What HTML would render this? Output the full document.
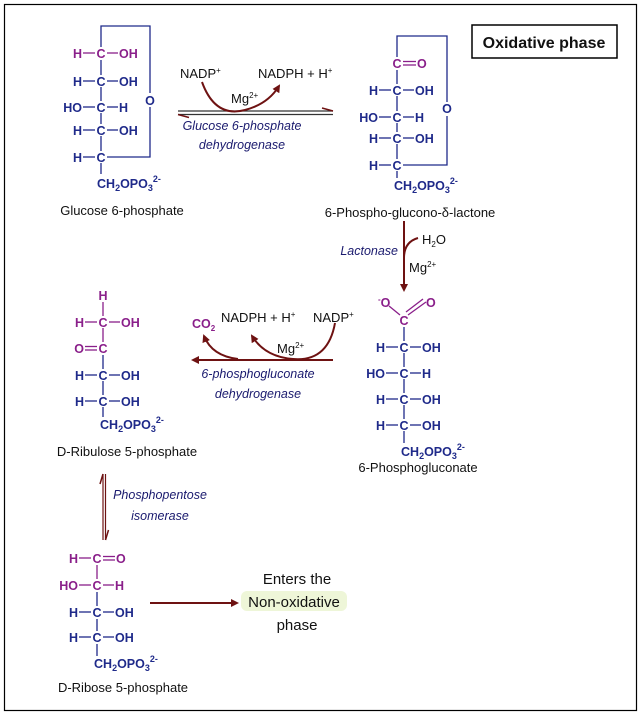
<!DOCTYPE html>
<html><head><meta charset="utf-8"><style>
html,body{margin:0;padding:0;background:#fff;}
svg{display:block;font-family:"Liberation Sans",Arial,sans-serif;}
.b{fill:#1f2a8a;font-weight:bold;font-size:12.5px;}
.p{fill:#8a1f8a;font-weight:bold;font-size:12.5px;}
.lb{stroke:#1f2a8a;stroke-width:1.3;fill:none;}
.lp{stroke:#8a1f8a;stroke-width:1.3;fill:none;}
.k{fill:#111;font-size:13px;}
.e{fill:#1a1a6e;font-style:italic;font-size:12.5px;}
.r{stroke:#6e1212;stroke-width:2;fill:none;}
</style></head><body>
<svg width="643" height="716" viewBox="0 0 643 716">
<defs>
<marker id="ah" markerWidth="8" markerHeight="8" refX="6" refY="4" orient="auto" markerUnits="userSpaceOnUse"><path d="M0,0 L8,4 L0,8 Z" fill="#6e1212"/></marker>
</defs>
<rect x="4.5" y="4.5" width="632" height="706" fill="none" stroke="#000" stroke-width="1.2"/>

<rect x="472" y="25" width="145" height="33" fill="#fff" stroke="#000" stroke-width="1.5"/>
<text x="544" y="48" text-anchor="middle" font-size="16" font-weight="bold" fill="#111">Oxidative phase</text>

<g>
<text class="p" x="82" y="58" text-anchor="end">H</text><line class="lp" x1="83" y1="53" x2="95" y2="53"/><text class="p" x="101" y="58" text-anchor="middle">C</text><line class="lp" x1="107" y1="53" x2="118" y2="53"/><text class="p" x="119" y="58">OH</text>
<text class="b" x="82" y="86" text-anchor="end">H</text><line class="lb" x1="83" y1="81" x2="95" y2="81"/><text class="b" x="101" y="86" text-anchor="middle">C</text><line class="lb" x1="107" y1="81" x2="118" y2="81"/><text class="b" x="119" y="86">OH</text>
<text class="b" x="82" y="112" text-anchor="end">HO</text><line class="lb" x1="83" y1="107" x2="95" y2="107"/><text class="b" x="101" y="112" text-anchor="middle">C</text><line class="lb" x1="107" y1="107" x2="118" y2="107"/><text class="b" x="119" y="112">H</text>
<text class="b" x="82" y="135" text-anchor="end">H</text><line class="lb" x1="83" y1="130" x2="95" y2="130"/><text class="b" x="101" y="135" text-anchor="middle">C</text><line class="lb" x1="107" y1="130" x2="118" y2="130"/><text class="b" x="119" y="135">OH</text>
<text class="b" x="82" y="162" text-anchor="end">H</text><line class="lb" x1="83" y1="157" x2="95" y2="157"/><text class="b" x="101" y="162" text-anchor="middle">C</text>
<path class="lb" d="M101,47 V26 H150 V93 M150,107 V157 H107 M101,60 V75 M101,87 V101 M101,113 V124 M101,136 V151 M101,163 V174"/>
<text class="b" x="150" y="105" text-anchor="middle">O</text>
<text class="b" x="97" y="188">CH<tspan font-size="9" dy="3">2</tspan><tspan dy="-3">OPO</tspan><tspan font-size="9" dy="3">3</tspan><tspan font-size="9" dy="-9">2-</tspan></text>
<text class="k" x="122" y="215" text-anchor="middle">Glucose 6-phosphate</text>
</g>

<line x1="178" y1="111" x2="333" y2="111" stroke="#333" stroke-width="1.2"/>
<path d="M333,111 L322,108" stroke="#6e1212" stroke-width="1.5"/>
<line x1="178" y1="114.5" x2="333" y2="114.5" stroke="#333" stroke-width="1.2"/>
<path d="M178,114.5 L189,117.5" stroke="#6e1212" stroke-width="1.5"/>
<path class="r" d="M202,82 Q215,118 245,110 Q268,104 279,86" marker-end="url(#ah)"/>
<text class="k" x="180" y="78">NADP<tspan font-size="8" dy="-5">+</tspan></text>
<text class="k" x="258" y="78">NADPH + H<tspan font-size="8" dy="-5">+</tspan></text>
<text class="k" x="231" y="103">Mg<tspan font-size="8" dy="-5">2+</tspan></text>
<text class="e" x="242" y="130" text-anchor="middle">Glucose 6-phosphate</text>
<text class="e" x="242" y="149" text-anchor="middle">dehydrogenase</text>

<g>
<text class="p" x="397" y="68" text-anchor="middle">C</text><line class="lp" x1="403" y1="61.5" x2="416" y2="61.5"/><line class="lp" x1="403" y1="65" x2="416" y2="65"/><text class="p" x="417" y="68">O</text>
<text class="b" x="378" y="95" text-anchor="end">H</text><line class="lb" x1="379" y1="90" x2="391" y2="90"/><text class="b" x="397" y="95" text-anchor="middle">C</text><line class="lb" x1="403" y1="90" x2="414" y2="90"/><text class="b" x="415" y="95">OH</text>
<text class="b" x="378" y="122" text-anchor="end">HO</text><line class="lb" x1="379" y1="117" x2="391" y2="117"/><text class="b" x="397" y="122" text-anchor="middle">C</text><line class="lb" x1="403" y1="117" x2="414" y2="117"/><text class="b" x="415" y="122">H</text>
<text class="b" x="378" y="143" text-anchor="end">H</text><line class="lb" x1="379" y1="138" x2="391" y2="138"/><text class="b" x="397" y="143" text-anchor="middle">C</text><line class="lb" x1="403" y1="138" x2="414" y2="138"/><text class="b" x="415" y="143">OH</text>
<text class="b" x="378" y="170" text-anchor="end">H</text><line class="lb" x1="379" y1="165" x2="391" y2="165"/><text class="b" x="397" y="170" text-anchor="middle">C</text>
<path class="lb" d="M397,57 V36 H447 V102 M447,116 V165 H403 M397,70 V84 M397,96 V111 M397,123 V132 M397,144 V159 M397,171 V178"/>
<text class="b" x="447" y="113" text-anchor="middle">O</text>
<text class="b" x="394" y="190">CH<tspan font-size="9" dy="3">2</tspan><tspan dy="-3">OPO</tspan><tspan font-size="9" dy="3">3</tspan><tspan font-size="9" dy="-9">2-</tspan></text>
<text class="k" x="410" y="217" text-anchor="middle">6-Phospho-glucono-δ-lactone</text>
</g>

<line class="r" x1="404" y1="221" x2="404" y2="290" marker-end="url(#ah)"/>
<path class="r" stroke-width="1.5" d="M418,238 Q404,242 404,258"/>
<text class="e" x="398" y="255" text-anchor="end">Lactonase</text>
<text class="k" x="422" y="244">H<tspan font-size="8" dy="3">2</tspan><tspan dy="-3">O</tspan></text>
<text class="k" x="409" y="272">Mg<tspan font-size="8" dy="-5">2+</tspan></text>

<g>
<text class="p" x="378" y="307"><tspan font-size="8" dy="-5">-</tspan><tspan dy="5">O</tspan></text>
<text class="p" x="426" y="307">O</text>
<line class="lp" x1="389" y1="306" x2="400" y2="315"/>
<line class="lp" x1="408" y1="315" x2="426" y2="302"/><line class="lp" x1="406" y1="312" x2="423" y2="299"/>
<text class="p" x="404" y="325" text-anchor="middle">C</text>
<text class="b" x="385" y="352" text-anchor="end">H</text><line class="lb" x1="386" y1="347" x2="398" y2="347"/><text class="b" x="404" y="352" text-anchor="middle">C</text><line class="lb" x1="410" y1="347" x2="421" y2="347"/><text class="b" x="422" y="352">OH</text>
<text class="b" x="385" y="378" text-anchor="end">HO</text><line class="lb" x1="386" y1="373" x2="398" y2="373"/><text class="b" x="404" y="378" text-anchor="middle">C</text><line class="lb" x1="410" y1="373" x2="421" y2="373"/><text class="b" x="422" y="378">H</text>
<text class="b" x="385" y="404" text-anchor="end">H</text><line class="lb" x1="386" y1="399" x2="398" y2="399"/><text class="b" x="404" y="404" text-anchor="middle">C</text><line class="lb" x1="410" y1="399" x2="421" y2="399"/><text class="b" x="422" y="404">OH</text>
<text class="b" x="385" y="430" text-anchor="end">H</text><line class="lb" x1="386" y1="425" x2="398" y2="425"/><text class="b" x="404" y="430" text-anchor="middle">C</text><line class="lb" x1="410" y1="425" x2="421" y2="425"/><text class="b" x="422" y="430">OH</text>
<path class="lb" d="M404,327 V341 M404,353 V367 M404,379 V393 M404,405 V419 M404,431 V443"/>
<text class="b" x="401" y="456">CH<tspan font-size="9" dy="3">2</tspan><tspan dy="-3">OPO</tspan><tspan font-size="9" dy="3">3</tspan><tspan font-size="9" dy="-9">2-</tspan></text>
<text class="k" x="418" y="472" text-anchor="middle">6-Phosphogluconate</text>
</g>

<line class="r" x1="333" y1="360" x2="193" y2="360" marker-end="url(#ah)"/>
<path class="r" d="M335,323 Q328,362 293,359 Q265,357 252,336" marker-end="url(#ah)"/>
<path class="r" d="M238,359 Q212,356 204,336" marker-end="url(#ah)"/>
<text class="p" x="192" y="328">CO<tspan font-size="8" dy="3">2</tspan></text>
<text class="k" x="221" y="322">NADPH + H<tspan font-size="8" dy="-5">+</tspan></text>
<text class="k" x="313" y="322">NADP<tspan font-size="8" dy="-5">+</tspan></text>
<text class="k" x="277" y="353">Mg<tspan font-size="8" dy="-5">2+</tspan></text>
<text class="e" x="258" y="378" text-anchor="middle">6-phosphogluconate</text>
<text class="e" x="258" y="398" text-anchor="middle">dehydrogenase</text>

<g>
<text class="p" x="103" y="300" text-anchor="middle">H</text>
<text class="p" x="84" y="327" text-anchor="end">H</text><line class="lp" x1="85" y1="322" x2="97" y2="322"/><text class="p" x="103" y="327" text-anchor="middle">C</text><line class="lp" x1="109" y1="322" x2="120" y2="322"/><text class="p" x="121" y="327">OH</text>
<text class="p" x="84" y="353" text-anchor="end">O</text><line class="lp" x1="85" y1="346.5" x2="97" y2="346.5"/><line class="lp" x1="85" y1="350" x2="97" y2="350"/><text class="p" x="103" y="353" text-anchor="middle">C</text>
<text class="b" x="84" y="380" text-anchor="end">H</text><line class="lb" x1="85" y1="375" x2="97" y2="375"/><text class="b" x="103" y="380" text-anchor="middle">C</text><line class="lb" x1="109" y1="375" x2="120" y2="375"/><text class="b" x="121" y="380">OH</text>
<text class="b" x="84" y="406" text-anchor="end">H</text><line class="lb" x1="85" y1="401" x2="97" y2="401"/><text class="b" x="103" y="406" text-anchor="middle">C</text><line class="lb" x1="109" y1="401" x2="120" y2="401"/><text class="b" x="121" y="406">OH</text>
<path class="lp" d="M103,302 V316 M103,328 V342"/>
<path class="lb" d="M103,355 V369 M103,381 V395 M103,407 V417"/>
<text class="b" x="100" y="429">CH<tspan font-size="9" dy="3">2</tspan><tspan dy="-3">OPO</tspan><tspan font-size="9" dy="3">3</tspan><tspan font-size="9" dy="-9">2-</tspan></text>
<text class="k" x="127" y="456" text-anchor="middle">D-Ribulose 5-phosphate</text>
</g>

<line x1="103" y1="474" x2="103" y2="540" stroke="#6e1212" stroke-width="1.2"/>
<line x1="105.5" y1="474" x2="105.5" y2="540" stroke="#6e1212" stroke-width="1.2"/>
<path d="M103,474 L100,484 M105.5,540 L108.5,530" stroke="#6e1212" stroke-width="1.5"/>
<text class="e" x="160" y="499" text-anchor="middle">Phosphopentose</text>
<text class="e" x="160" y="520" text-anchor="middle">isomerase</text>

<g>
<text class="p" x="78" y="563" text-anchor="end">H</text><line class="lp" x1="79" y1="558" x2="91" y2="558"/><text class="p" x="97" y="563" text-anchor="middle">C</text><line class="lp" x1="103" y1="556.5" x2="115" y2="556.5"/><line class="lp" x1="103" y1="560" x2="115" y2="560"/><text class="p" x="116" y="563">O</text>
<text class="p" x="78" y="590" text-anchor="end">HO</text><line class="lp" x1="79" y1="585" x2="91" y2="585"/><text class="p" x="97" y="590" text-anchor="middle">C</text><line class="lp" x1="103" y1="585" x2="114" y2="585"/><text class="p" x="115" y="590">H</text>
<text class="b" x="78" y="617" text-anchor="end">H</text><line class="lb" x1="79" y1="612" x2="91" y2="612"/><text class="b" x="97" y="617" text-anchor="middle">C</text><line class="lb" x1="103" y1="612" x2="114" y2="612"/><text class="b" x="115" y="617">OH</text>
<text class="b" x="78" y="642" text-anchor="end">H</text><line class="lb" x1="79" y1="637" x2="91" y2="637"/><text class="b" x="97" y="642" text-anchor="middle">C</text><line class="lb" x1="103" y1="637" x2="114" y2="637"/><text class="b" x="115" y="642">OH</text>
<path class="lp" d="M97,565 V579"/>
<path class="lb" d="M97,592 V606 M97,619 V631 M97,644 V656"/>
<text class="b" x="94" y="668">CH<tspan font-size="9" dy="3">2</tspan><tspan dy="-3">OPO</tspan><tspan font-size="9" dy="3">3</tspan><tspan font-size="9" dy="-9">2-</tspan></text>
<text class="k" x="123" y="692" text-anchor="middle">D-Ribose 5-phosphate</text>
</g>

<line class="r" x1="150" y1="603" x2="237" y2="603" marker-end="url(#ah)"/>
<rect x="241" y="591" width="106" height="20" rx="6" fill="#eef6d8"/>
<text x="297" y="584" text-anchor="middle" font-size="15" fill="#111">Enters the</text>
<text x="294" y="607" text-anchor="middle" font-size="15" fill="#111">Non-oxidative</text>
<text x="297" y="630" text-anchor="middle" font-size="15" fill="#111">phase</text>
</svg>
</body></html>
